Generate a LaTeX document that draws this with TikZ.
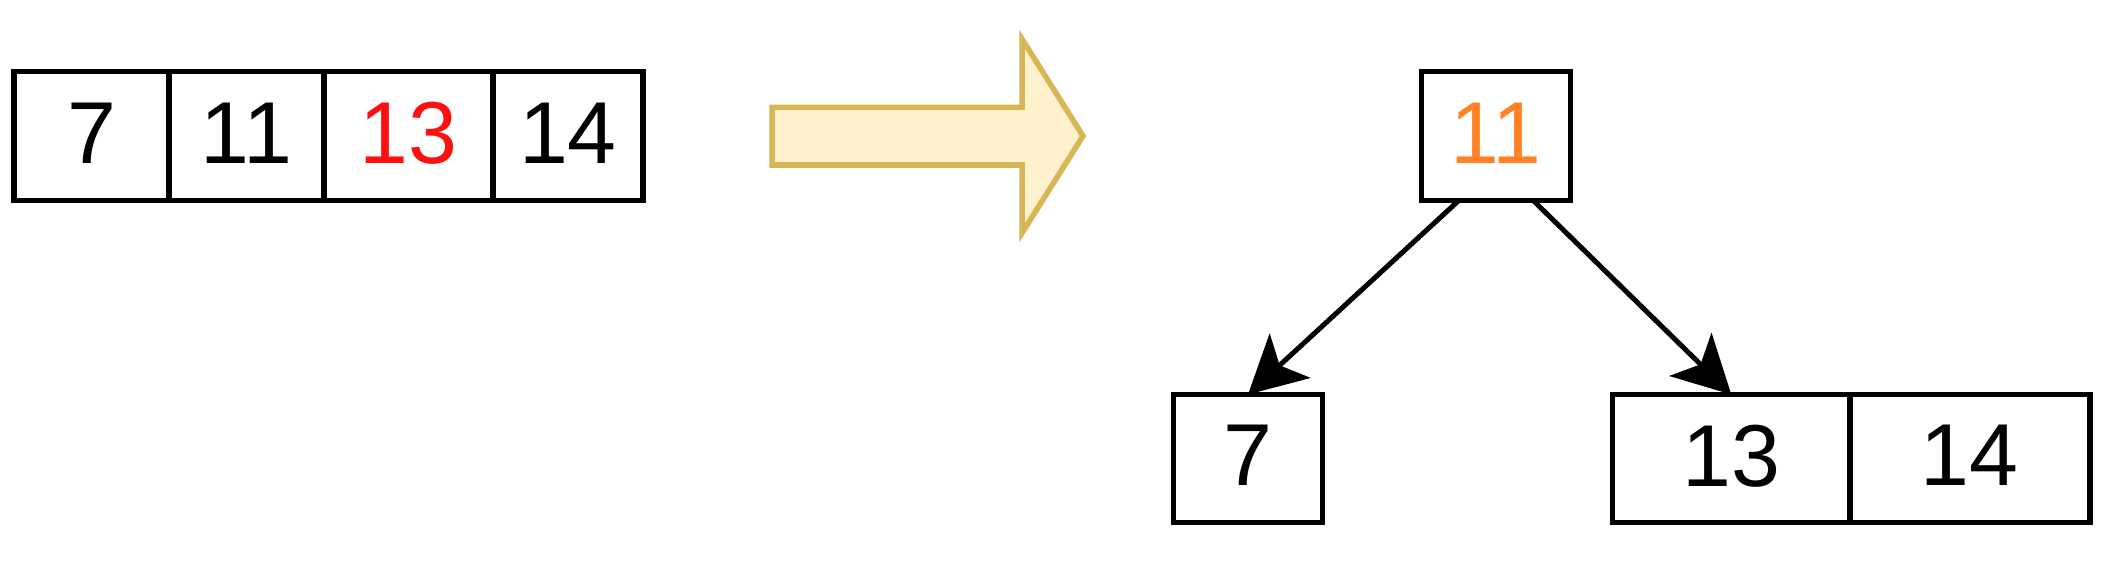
\documentclass[tikz,border=0pt]{standalone}
\usepackage{fontspec}
\setmainfont{Liberation Sans}
\usetikzlibrary{arrows.meta}
\definecolor{keyred}{HTML}{FF1010}
\definecolor{keyorange}{HTML}{FF8224}
\definecolor{arrowfill}{HTML}{FFF2CC}
\definecolor{arrowline}{HTML}{D6B656}
\begin{document}
\begin{tikzpicture}[x=0.01cm,y=-0.01cm,
  cell/.style={draw,line width=0.058cm,inner sep=0pt,outer sep=0pt,minimum height=1.29cm,text depth=0.06cm,font=\fontsize{25pt}{30pt}\selectfont},
  edge/.style={line width=0.05cm,-{Stealth[length=0.57cm,width=0.6cm,inset=0.14cm]}}]
\useasboundingbox (0,0) rectangle (2122,564);
% the array
\node[cell,minimum width=1.547cm] (a7) at (91.65,136) {7};
\node[cell,minimum width=1.55cm] (a11) at (246.5,136) {11};
\node[cell,minimum width=1.69cm,text=keyred] (a13) at (408.5,136) {13};
\node[cell,minimum width=1.50cm] (a14) at (568,136) {14};
% big arrow
\filldraw[fill=arrowfill,draw=arrowline,line width=0.055cm] (772,107.5)--(1022,107.5)--(1022,39)--(1083,136)--(1022,233)--(1022,165)--(772,165)--cycle;
% the tree
\node[cell,minimum width=1.49cm,text=keyorange] (root) at (1496,136) {11};
\node[cell,minimum width=1.49cm,minimum height=1.28cm] (b7) at (1248,458.5) {7};
\node[cell,minimum width=2.375cm,minimum height=1.28cm] (b13) at (1731.25,458.5) {13};
\node[cell,minimum width=2.395cm,minimum height=1.28cm] (b14) at (1969.75,458.5) {14};
\draw[edge] (root.240)--(b7.north);
\draw[edge] (root.300)--(b13.north);
\end{tikzpicture}
\end{document}
